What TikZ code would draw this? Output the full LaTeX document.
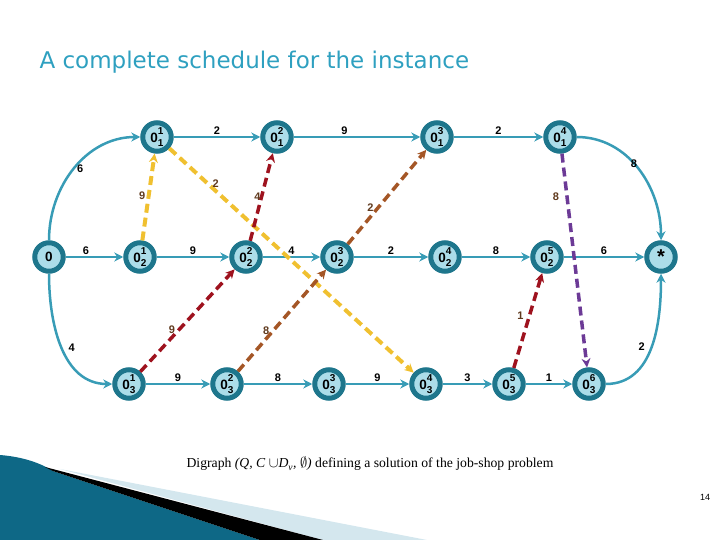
\documentclass[tikz,border=0pt]{standalone}
\usepackage{fontspec}
\setmainfont{Liberation Serif}
\setsansfont{Liberation Sans}
\newfontfamily\titlefont{DejaVu Sans}
\usetikzlibrary{arrows.meta}

\definecolor{ringteal}{RGB}{30,118,140}
\definecolor{nodefill}{RGB}{172,221,233}
\definecolor{arcteal}{RGB}{56,156,182}
\definecolor{dashyellow}{RGB}{240,192,48}
\definecolor{dashred}{RGB}{158,18,30}
\definecolor{dashbrown}{RGB}{164,86,38}
\definecolor{dashpurple}{RGB}{108,58,150}
\definecolor{wlabel}{RGB}{96,58,30}
\definecolor{titleblue}{RGB}{46,160,192}
\definecolor{slidedark}{RGB}{14,104,134}
\definecolor{slidelight}{RGB}{84,184,214}
\definecolor{slidepale}{RGB}{212,231,238}

% operation label: 0 with job index below and step index above
\newcommand{\opn}[2]{0\rlap{\raisebox{.6em}{\fontsize{10}{10}\selectfont #2}}\raisebox{-.3em}{\fontsize{10}{10}\selectfont #1}}

\tikzset{
  opnode/.style={circle, draw=ringteal, fill=nodefill, line width=5pt, minimum size=28.5pt, inner sep=0pt, font=\sffamily\bfseries\fontsize{13.5}{13.5}\selectfont},
  conj/.style={draw=arcteal, line width=2.5pt, -{Stealth[length=9pt,width=9pt]}},
  disj/.style={line width=3.5pt, dash pattern=on 9pt off 5pt, -{Stealth[length=9pt,width=9pt]}},
  wt/.style={font=\sffamily\bfseries\fontsize{11}{11}\selectfont, inner sep=1.5pt},
  dwt/.style={wt, text=wlabel},
}

\begin{document}
\begin{tikzpicture}[x=1pt,y=-1pt]
\useasboundingbox (0,0) rectangle (720,540);

% slide corner
\shade[left color=slidedark, middle color=slidelight, right color=slidedark] (0,455) .. controls (25,457) and (42,464) .. (53,471) -- (260,540) -- (0,540) -- cycle;
\fill[slidepale] (60,469) -- (427,540) -- (323,540) -- cycle;
\fill[black] (45,467) -- (323,540) -- (260,540) -- (53,471) -- cycle;

\node[anchor=west, text=titleblue, font=\titlefont\fontsize{23}{26}\selectfont] (title) at (36,62) {A complete schedule for the instance};

% operations
\node[opnode] (src) at (49,257) {0};
\node[opnode] (o11) at (157,137) {\opn{1}{1}};
\node[opnode] (o12) at (277,137) {\opn{1}{2}};
\node[opnode] (o13) at (437,137) {\opn{1}{3}};
\node[opnode] (o14) at (560,137) {\opn{1}{4}};
\node[opnode] (o21) at (140,257) {\opn{2}{1}};
\node[opnode] (o22) at (246,257) {\opn{2}{2}};
\node[opnode] (o23) at (337,257) {\opn{2}{3}};
\node[opnode] (o24) at (445,257) {\opn{2}{4}};
\node[opnode] (o25) at (547,257) {\opn{2}{5}};
\node[opnode] (sink) at (661,257) {\fontsize{20}{20}\selectfont\raisebox{-.3em}{*}};
\node[opnode] (o31) at (129,384) {\opn{3}{1}};
\node[opnode] (o32) at (227,384) {\opn{3}{2}};
\node[opnode] (o33) at (329,384) {\opn{3}{3}};
\node[opnode] (o34) at (426,384) {\opn{3}{4}};
\node[opnode] (o35) at (509,384) {\opn{3}{5}};
\node[opnode] (o36) at (589,384) {\opn{3}{6}};

% conjunctive arcs
\draw[conj] (src) to[out=90,in=180] node[wt, pos=.5, right] {6} (o11);
\draw[conj] (src) -- node[wt, above, pos=.35] {6} (o21);
\draw[conj] (src) to[out=-90,in=180] node[wt, pos=.5, right=4pt] {4} (o31);
\draw[conj] (o11) -- node[wt, above] {2} (o12);
\draw[conj] (o12) -- node[wt, above, pos=.4] {9} (o13);
\draw[conj] (o13) -- node[wt, above] {2} (o14);
\draw[conj] (o14) to[out=0,in=90] node[wt, pos=.45, below left=-6pt] {8} (sink);
\draw[conj] (o21) -- node[wt, above] {9} (o22);
\draw[conj] (o22) -- node[wt, above] {4} (o23);
\draw[conj] (o23) -- node[wt, above] {2} (o24);
\draw[conj] (o24) -- node[wt, above] {8} (o25);
\draw[conj] (o25) -- node[wt, above] {6} (sink);
\draw[conj] (o31) -- node[wt, above] {9} (o32);
\draw[conj] (o32) -- node[wt, above] {8} (o33);
\draw[conj] (o33) -- node[wt, above] {9} (o34);
\draw[conj] (o34) -- node[wt, above] {3} (o35);
\draw[conj] (o35) -- node[wt, above] {1} (o36);
\draw[conj] (o36) to[out=0,in=-90] node[wt, pos=.5, left=4pt] {2} (sink);

% disjunctive arcs of the selection
\draw[disj, dashyellow, line width=4pt] (o21) -- node[dwt, pos=.51, left] {9} (o11);
\draw[disj, dashyellow, line width=4pt] (o11) -- node[dwt, pos=.19, above] {2} (o34);
\draw[disj, dashred] (o22) -- node[dwt, pos=.5, xshift=-4pt] {4} (o12);
\draw[disj, dashred] (o31) -- node[dwt, pos=.41, xshift=-7pt] {9} (o22);
\draw[disj, dashbrown] (o32) -- node[dwt, pos=.40, xshift=-7pt] {8} (o23);
\draw[disj, dashbrown] (o23) -- node[dwt, pos=.39, xshift=-8pt] {2} (o13);
\draw[disj, dashred] (o35) -- node[dwt, pos=.55, xshift=-9pt] {1} (o25);
\draw[disj, dashpurple] (o14) -- node[dwt, pos=.2, xshift=-11pt] {8} (o36);

\node[font=\fontsize{13.7}{15}\selectfont] (caption) at (370,464) {Digraph \textit{(Q, C }$\cup$\textit{D\textsubscript{v}, }$\emptyset$\textit{)} defining a solution of the job-shop problem};
\node[font=\sffamily\fontsize{9}{9}\selectfont] (pagenum) at (705,497) {14};
\end{tikzpicture}
\end{document}
